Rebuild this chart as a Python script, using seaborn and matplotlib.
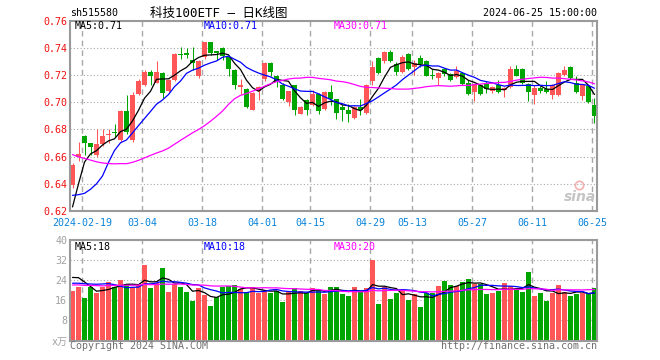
import matplotlib
matplotlib.use('Agg')
import matplotlib.pyplot as plt
import numpy as np
import pandas as pd
import seaborn as sns

# trading sessions shown: 2024-02-07 .. 2024-06-25 (exchange holidays removed)
holidays = ['2024-02-09', '2024-02-12', '2024-02-13', '2024-02-14', '2024-02-15', '2024-02-16',
            '2024-04-04', '2024-04-05', '2024-05-01', '2024-05-02', '2024-05-03', '2024-06-10']
dates = pd.bdate_range('2024-02-07', '2024-06-25').difference(pd.to_datetime(holidays))

tick_dates = ['2024-02-19', '2024-03-04', '2024-03-18', '2024-04-01', '2024-04-15',
              '2024-04-29', '2024-05-13', '2024-05-27', '2024-06-11', '2024-06-25']
tick_labels = ['2024-02-19', '03-04', '03-18', '04-01', '04-15',
               '04-29', '05-13', '05-27', '06-11', '06-25']

open_ = [0.639, 0.660, 0.675, 0.670, 0.661, 0.669, 0.676, 0.678, 0.672, 0.6935,
         0.672, 0.706, 0.713, 0.722, 0.7145, 0.7215, 0.708, 0.7165, 0.7355, 0.7365,
         0.731, 0.719, 0.733, 0.744, 0.738, 0.740, 0.733, 0.724, 0.711, 0.710,
         0.6945, 0.708, 0.717, 0.729, 0.7195, 0.713, 0.7002, 0.7128, 0.6915, 0.7015,
         0.698, 0.706, 0.695, 0.7076, 0.7024, 0.6965, 0.6943, 0.6884, 0.6965, 0.6921,
         0.7158, 0.7328, 0.730, 0.7373, 0.7284, 0.7224, 0.7358, 0.7262, 0.7328, 0.7306,
         0.7197, 0.718, 0.7247, 0.721, 0.7188, 0.7217, 0.7143, 0.7076, 0.7128, 0.7136,
         0.7084, 0.7128, 0.709, 0.7113, 0.7247, 0.7247, 0.7136, 0.7054, 0.7106, 0.710,
         0.7054, 0.7054, 0.7202, 0.7262, 0.7143, 0.7047, 0.712, 0.698]
high = [0.655, 0.671, 0.676, 0.670, 0.680, 0.680, 0.680, 0.684, 0.694, 0.7055,
        0.7075, 0.717, 0.724, 0.724, 0.7300, 0.7225, 0.717, 0.7365, 0.7407, 0.740,
        0.7405, 0.731, 0.7445, 0.7445, 0.738, 0.741, 0.7335, 0.7245, 0.717, 0.7105,
        0.7075, 0.712, 0.7295, 0.7295, 0.720, 0.7145, 0.7085, 0.713, 0.697, 0.7025,
        0.709, 0.7065, 0.708, 0.7128, 0.7025, 0.698, 0.6987, 0.697, 0.7024, 0.7135,
        0.7306, 0.733, 0.738, 0.7387, 0.7299, 0.735, 0.736, 0.731, 0.735, 0.731,
        0.7247, 0.722, 0.7255, 0.7215, 0.727, 0.722, 0.7165, 0.7143, 0.7135, 0.716,
        0.712, 0.7165, 0.7115, 0.727, 0.7276, 0.725, 0.714, 0.7128, 0.712, 0.7158,
        0.7136, 0.7224, 0.727, 0.727, 0.7195, 0.7136, 0.7128, 0.7032]
low = [0.637, 0.657, 0.661, 0.661, 0.660, 0.668, 0.670, 0.6745, 0.671, 0.6765,
       0.671, 0.705, 0.712, 0.713, 0.714, 0.703, 0.7075, 0.716, 0.732, 0.7325,
       0.724, 0.718, 0.732, 0.735, 0.731, 0.731, 0.719, 0.710, 0.706, 0.696,
       0.694, 0.7015, 0.716, 0.7195, 0.711, 0.702, 0.697, 0.6906, 0.691, 0.6908,
       0.697, 0.691, 0.694, 0.698, 0.6877, 0.686, 0.6855, 0.688, 0.6906, 0.6913,
       0.7128, 0.721, 0.729, 0.7299, 0.720, 0.7217, 0.724, 0.720, 0.7262, 0.719,
       0.7173, 0.7128, 0.7195, 0.7158, 0.718, 0.7128, 0.7054, 0.701, 0.7054, 0.707,
       0.7069, 0.7069, 0.704, 0.7106, 0.719, 0.7136, 0.701, 0.6987, 0.7069, 0.707,
       0.7024, 0.7047, 0.7195, 0.7173, 0.7069, 0.7017, 0.6995, 0.6846]
close = [0.654, 0.662, 0.670, 0.667, 0.669, 0.675, 0.677, 0.6775, 0.6935, 0.678,
         0.7055, 0.716, 0.722, 0.719, 0.7220, 0.7067, 0.7165, 0.7355, 0.735, 0.7345,
         0.729, 0.7305, 0.744, 0.736, 0.736, 0.734, 0.7245, 0.713, 0.713, 0.6965,
         0.7065, 0.7115, 0.729, 0.7225, 0.7148, 0.7025, 0.7084, 0.6943, 0.6965, 0.6943,
         0.706, 0.6935, 0.7076, 0.7024, 0.692, 0.6945, 0.6913, 0.6965, 0.6945, 0.7128,
         0.7262, 0.7217, 0.7373, 0.7306, 0.7224, 0.7336, 0.7247, 0.7291, 0.7284, 0.7195,
         0.7195, 0.7217, 0.721, 0.7165, 0.7232, 0.7136, 0.7061, 0.7136, 0.7061, 0.710,
         0.7113, 0.7076, 0.7106, 0.7247, 0.7195, 0.7143, 0.7076, 0.7106, 0.7084, 0.7076,
         0.7128, 0.7217, 0.724, 0.718, 0.7076, 0.7128, 0.7002, 0.690]
# volume, x 10k
volume = [19.7, 21.1, 17.1, 21.1, 19.1, 21.1, 23.1, 21.3, 23.9, 22.5,
          21.3, 22.1, 30.1, 20.7, 22.7, 28.9, 19.3, 22.5, 21.3, 19.3,
          15.7, 20.7, 18.3, 13.7, 17.3, 21.1, 21.7, 22.1, 20.4, 19.3,
          21.3, 19.1, 19.6, 18.9, 19.7, 15.3, 19.3, 20.9, 19.7, 18.9,
          20.9, 20.0, 18.5, 21.3, 21.3, 18.5, 17.7, 21.3, 19.3, 20.9,
          32.1, 14.5, 21.3, 16.5, 18.9, 20.1, 16.1, 18.5, 13.3, 18.9,
          18.9, 21.7, 23.7, 22.1, 21.7, 23.3, 24.5, 22.5, 22.5, 18.5,
          18.9, 19.7, 22.9, 21.7, 20.1, 19.3, 27.3, 17.7, 18.9, 15.7,
          18.9, 22.1, 19.3, 17.7, 18.5, 18.9, 18.9, 20.9]

# 29 sessions before the window, backed out of where the MA lines start
pre_close = [0.712, 0.705, 0.703, 0.708, 0.700, 0.690, 0.684, 0.688, 0.680, 0.675,
             0.672, 0.668, 0.664, 0.670, 0.660, 0.655, 0.650, 0.648, 0.652, 0.646,
             0.657, 0.660, 0.637, 0.629, 0.617, 0.577, 0.590, 0.637, 0.657]
pre_volume = [20, 23, 21, 22, 24, 20, 19, 22, 23, 21,
              20, 22, 24, 21, 23, 22, 20, 21, 24, 23,
              21, 19.5, 22, 19.9, 20.1, 21.6, 25.6, 30.1, 28.5]

RED = '#ff5757'
GREEN = '#00a600'
GRID = '#a8a8a8'
W, H = 660, 360


def moving(pre, vals, n):
    s = pd.Series(list(pre) + list(vals)).rolling(n).mean()
    return s.iloc[len(pre):].to_numpy()


def px(x, y):
    return x / W, 1 - y / H


df = pd.DataFrame({'date': dates, 'open': open_, 'high': high, 'low': low,
                   'close': close, 'volume': volume})
df['i'] = np.arange(len(df))
df['dir'] = np.where(df['close'] > df['open'], 'up', 'down')
for n in (5, 10, 30):
    df[f'ma{n}'] = moving(pre_close, close, n)
    df[f'vma{n}'] = moving(pre_volume, volume, n)

tick_pos = [df.index[df['date'] == pd.Timestamp(d)][0] - 5 / 12 for d in tick_dates]

sns.set_theme(style='white')
plt.rcParams['font.family'] = ['DejaVu Sans Mono', 'Noto Sans CJK SC']
plt.rcParams['axes.unicode_minus'] = False

fig = plt.figure(figsize=(6.6, 3.6), dpi=100)
ax = fig.add_axes([70 / W, (H - 211) / H, 527.3 / W, 190.3 / H])
axv = fig.add_axes([70 / W, (H - 340.5) / H, 527.3 / W, 100.5 / H])

colors = np.where(df['dir'] == 'up', RED, GREEN)

# candles
ax.vlines(df['i'], df['low'], df['high'], colors=colors, lw=0.75, zorder=2)
ax.bar(df['i'], np.maximum((df['close'] - df['open']).abs(), 0.0006),
       bottom=np.minimum(df['open'], df['close']), width=5 / 6,
       color=colors, linewidth=0, zorder=2)

for col, c in (('ma5', 'black'), ('ma10', '#0000ff'), ('ma30', '#ff00ff')):
    sns.lineplot(data=df, x='i', y=col, ax=ax, color=c, lw=0.9, legend=False, zorder=3)

# volume
sns.barplot(data=df, x='i', y='volume', hue='dir', palette={'up': RED, 'down': GREEN},
            native_scale=True, width=5 / 6, dodge=False, errorbar=None, saturation=1,
            legend=False, linewidth=0, ax=axv, zorder=2)
for col, c in (('vma5', 'black'), ('vma10', '#0000ff'), ('vma30', '#ff00ff')):
    sns.lineplot(data=df, x='i', y=col, ax=axv, color=c, lw=0.9, legend=False, zorder=3)

for a in (ax, axv):
    a.set_xlim(-0.42, 87.47)
    a.set_xticks(tick_pos)
    a.set_xlabel('')
    a.set_ylabel('')
    a.set_axisbelow(True)
    a.xaxis.grid(True, linestyle=(0, (4, 3)), color=GRID, lw=1.0)
    a.yaxis.grid(True, linestyle=(0, (1, 2)), color=GRID, lw=0.8)
    a.tick_params(length=0, labelsize=7.2)
    for s in a.spines.values():
        s.set_color('#9a9a9a')
        s.set_linewidth(1.5)
        s.set_visible(True)

ax.set_ylim(0.62, 0.76)
price_ticks = np.round(np.arange(0.62, 0.7601, 0.02), 2)
ax.set_yticks(price_ticks)
ax.set_yticklabels([f'{t:.2f}' for t in price_ticks])
ax.tick_params(axis='y', labelcolor='#f01010', pad=2)
ax.set_xticklabels(tick_labels)
ax.tick_params(axis='x', labelcolor='#0a84d8', pad=5)

axv.set_ylim(0, 40)
vol_ticks = [0, 8, 16, 24, 32, 40]
axv.set_yticks(vol_ticks)
axv.set_yticklabels(['x万'] + [str(t) for t in vol_ticks[1:]])
axv.tick_params(axis='y', labelcolor='#a0a0a0', pad=2)
axv.set_xticklabels([])

# header and MA readouts
fig.text(*px(70, 13), 'sh515580', fontsize=7.2, va='center', ha='left', color='black')
fig.text(*px(219, 13), '科技100ETF — 日K线图', fontsize=9, va='center', ha='center', color='black')
fig.text(*px(597, 13), '2024-06-25 15:00:00', fontsize=7.2, va='center', ha='right', color='black')

last = df.iloc[-1]
fig.text(*px(75, 26), f"MA5:{last['ma5']:.2f}", fontsize=7.2, va='center', color='black')
fig.text(*px(204, 26), f"MA10:{last['ma10']:.2f}", fontsize=7.2, va='center', color='#0000ff')
fig.text(*px(334, 26), f"MA30:{last['ma30']:.2f}", fontsize=7.2, va='center', color='#ff00ff')
fig.text(*px(75, 246.5), f"MA5:{int(last['vma5'])}", fontsize=7.2, va='center', color='black')
fig.text(*px(204, 246.5), f"MA10:{int(last['vma10'])}", fontsize=7.2, va='center', color='#0000ff')
fig.text(*px(334, 246.5), f"MA30:{int(last['vma30'])}", fontsize=7.2, va='center', color='#ff00ff')

# sina watermark
ax.text(0.997, 0.035, 'sina', transform=ax.transAxes, ha='right', va='bottom',
        fontsize=10, fontweight='bold', fontstyle='italic', color='#c4c4c4', family='DejaVu Sans')
ax.plot([0.965], [0.135], transform=ax.transAxes, marker='o', ms=6, mfc='none',
        mec='#f2b0b0', mew=1.2, zorder=1)

fig.text(*px(70, 346), 'Copyright 2024 SINA.COM', fontsize=7.2, va='center', ha='left', color='#707070')
fig.text(*px(597, 346), 'http://finance.sina.com.cn', fontsize=7.2, va='center', ha='right', color='#707070')

fig.savefig('out.png', dpi=100)
